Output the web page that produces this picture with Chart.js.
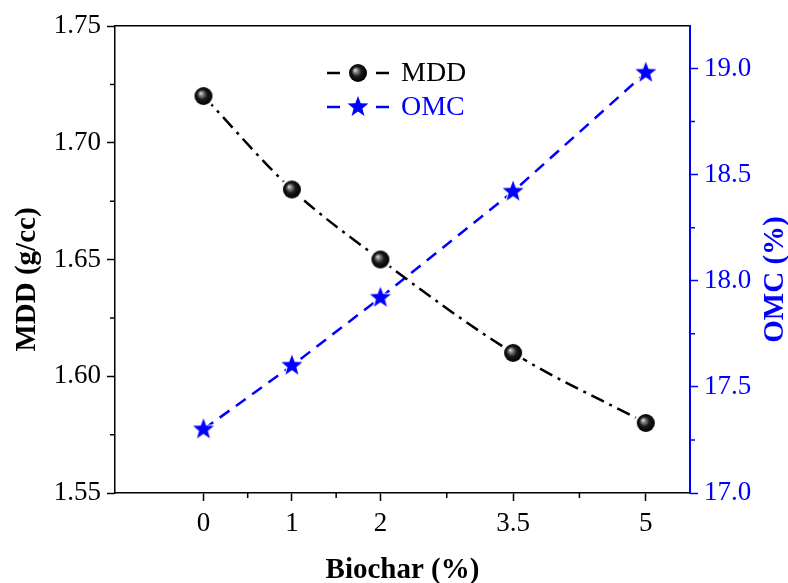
<!DOCTYPE html>
<html lang="en">

<head>
    <meta charset="UTF-8">
    <title>MDD and OMC vs Biochar</title>
    <script src="https://cdn.jsdelivr.net/npm/chart.js"></script>
    <style>
        body { margin: 0; background: #fff; }
        #wrap { width: 788px; height: 583px; }
    </style>
</head>

<body>
    <div id="wrap"><canvas id="chart"></canvas></div>

    <script>
        // data
        const biochar = [0, 1, 2, 3.5, 5];
        const mdd = [1.72, 1.68, 1.65, 1.61, 1.58];
        const omc = [17.30, 17.60, 17.92, 18.42, 18.98];

        // axis ticks
        const xTicks = [0, 1, 2, 3.5, 5];
        const xMinor = [0.5, 1.5, 2.75, 4.25];
        const mddTicks = [1.55, 1.60, 1.65, 1.70, 1.75];
        const mddMinor = [1.575, 1.625, 1.675, 1.725];
        const omcTicks = [17.0, 17.5, 18.0, 18.5, 19.0];
        const omcMinor = [17.25, 17.75, 18.25, 18.75];

        const FONT = "'Liberation Serif', 'Times New Roman', serif";
        const BLUE = "#0000ff";

        // shaded ball marker
        function makeBall(r) {
            let c = document.createElement("canvas");
            c.width = c.height = r * 2 + 6;
            let g = c.getContext("2d");
            let m = c.width / 2;
            g.fillStyle = "#fff";
            g.beginPath(); g.arc(m, m, r + 2.5, 0, Math.PI * 2); g.fill();
            let grad = g.createRadialGradient(m - 3, m - 3, 0, m, m, r);
            grad.addColorStop(0, "#f0f0f0");
            grad.addColorStop(0.2, "#909090");
            grad.addColorStop(0.55, "#1a1a1a");
            grad.addColorStop(1, "#000");
            g.fillStyle = grad;
            g.beginPath(); g.arc(m, m, r, 0, Math.PI * 2); g.fill();
            return c;
        }

        // filled star marker
        function makeStar(r) {
            let c = document.createElement("canvas");
            c.width = c.height = r * 2 + 6;
            let g = c.getContext("2d");
            let m = c.width / 2;
            function path(R) {
                g.beginPath();
                for (let i = 0; i < 10; i++) {
                    let rad = i % 2 === 0 ? R : R * 0.42;
                    let a = -Math.PI / 2 + i * Math.PI / 5;
                    let px = m + rad * Math.cos(a), py = m + rad * Math.sin(a);
                    if (i === 0) g.moveTo(px, py); else g.lineTo(px, py);
                }
                g.closePath();
            }
            g.fillStyle = "#fff"; path(r + 3); g.fill();
            g.fillStyle = BLUE; path(r); g.fill();
            return c;
        }

        const ball = makeBall(9);
        const star = makeStar(11);

        const mddDash = [14, 6, 3, 6];
        const omcDash = [12, 8];

        // minor ticks on each axis
        const minorTicks = {
            id: "minorTicks",
            afterDraw(chart) {
                let ctx = chart.ctx, a = chart.chartArea;
                let sx = chart.scales.x, sy = chart.scales.y, sy2 = chart.scales.y2;
                ctx.save();
                ctx.lineWidth = 1.5;
                ctx.strokeStyle = "#000";
                ctx.beginPath();
                xMinor.forEach(v => {
                    let p = sx.getPixelForValue(v);
                    ctx.moveTo(p, a.bottom); ctx.lineTo(p, a.bottom + 5);
                });
                mddMinor.forEach(v => {
                    let p = sy.getPixelForValue(v);
                    ctx.moveTo(a.left, p); ctx.lineTo(a.left - 5, p);
                });
                ctx.stroke();
                ctx.strokeStyle = BLUE;
                ctx.beginPath();
                omcMinor.forEach(v => {
                    let p = sy2.getPixelForValue(v);
                    ctx.moveTo(a.right, p); ctx.lineTo(a.right + 5, p);
                });
                ctx.stroke();
                ctx.restore();
            }
        };

        // both y titles read bottom-to-top, like the original
        const yTitles = {
            id: "yTitles",
            afterDraw(chart) {
                let ctx = chart.ctx;
                let mid = (chart.chartArea.top + chart.chartArea.bottom) / 2 + 20;
                ctx.save();
                ctx.font = "bold 29px " + FONT;
                ctx.textAlign = "center";
                ctx.textBaseline = "middle";
                [["MDD (g/cc)", "#000", 28], ["OMC (%)", BLUE, 776]].forEach(t => {
                    ctx.save();
                    ctx.translate(t[2], mid);
                    ctx.rotate(-Math.PI / 2);
                    ctx.fillStyle = t[1];
                    ctx.fillText(t[0], 0, 0);
                    ctx.restore();
                });
                ctx.restore();
            }
        };

        // legend: line - marker - line, then label
        const sampleLegend = {
            id: "sampleLegend",
            afterDraw(chart) {
                let ctx = chart.ctx;
                let rows = [
                    { label: "MDD", color: "#000", img: ball, y: 73 },
                    { label: "OMC", color: BLUE, img: star, y: 107 }
                ];
                ctx.save();
                rows.forEach(r => {
                    ctx.strokeStyle = r.color;
                    ctx.lineWidth = 2.5;
                    ctx.beginPath();
                    ctx.moveTo(327, r.y); ctx.lineTo(340, r.y);
                    ctx.moveTo(376, r.y); ctx.lineTo(389, r.y);
                    ctx.stroke();
                    ctx.drawImage(r.img, 358 - r.img.width / 2, r.y - r.img.height / 2);
                    ctx.fillStyle = r.color;
                    ctx.font = "28px " + FONT;
                    ctx.textBaseline = "middle";
                    ctx.fillText(r.label, 401, r.y + 1);
                });
                ctx.restore();
            }
        };

        new Chart(document.getElementById("chart"), {
            type: "line",
            data: {
                datasets: [{
                    label: "MDD",
                    data: biochar.map((x, i) => ({ x: x, y: mdd[i] })),
                    yAxisID: "y",
                    borderColor: "#000",
                    borderWidth: 2.5,
                    borderDash: mddDash,
                    cubicInterpolationMode: "monotone",
                    pointStyle: ball,
                    fill: false
                }, {
                    label: "OMC",
                    data: biochar.map((x, i) => ({ x: x, y: omc[i] })),
                    yAxisID: "y2",
                    borderColor: BLUE,
                    borderWidth: 2.5,
                    borderDash: omcDash,
                    tension: 0,
                    pointStyle: star,
                    fill: false
                }]
            },
            options: {
                responsive: true,
                maintainAspectRatio: false,
                animation: false,
                layout: { padding: 0 },
                plugins: {
                    legend: { display: false },
                    tooltip: { enabled: false }
                },
                scales: {
                    x: {
                        type: "linear",
                        position: "bottom",
                        min: -1,
                        max: 5.5,
                        afterBuildTicks: s => { s.ticks = xTicks.map(v => ({ value: v })); },
                        afterFit: s => { s.height = 90; },
                        ticks: {
                            color: "#000",
                            font: { family: FONT, size: 27 },
                            padding: 7,
                            maxRotation: 0,
                            callback: v => String(v)
                        },
                        grid: { drawOnChartArea: false, tickLength: 8, tickColor: "#000", tickWidth: 1.5 },
                        border: { color: "#000", width: 1.5 },
                        title: {
                            display: true,
                            text: "Biochar (%)",
                            color: "#000",
                            font: { family: FONT, size: 29, weight: "bold", lineHeight: 1 },
                            padding: { top: 0, bottom: -2 }
                        }
                    },
                    x2: {
                        type: "linear",
                        position: "top",
                        min: -1,
                        max: 5.5,
                        afterFit: s => { s.height = 26; },
                        ticks: { display: false },
                        grid: { drawOnChartArea: false, drawTicks: false },
                        border: { color: "#000", width: 1.5 }
                    },
                    y: {
                        position: "left",
                        min: 1.55,
                        max: 1.75,
                        afterBuildTicks: s => { s.ticks = mddTicks.map(v => ({ value: v })); },
                        afterFit: s => { s.width = 115; },
                        ticks: {
                            color: "#000",
                            font: { family: FONT, size: 27 },
                            padding: 6,
                            callback: v => Number(v).toFixed(2)
                        },
                        grid: { drawOnChartArea: false, tickLength: 8, tickColor: "#000", tickWidth: 1.5 },
                        border: { color: "#000", width: 1.5 }
                    },
                    y2: {
                        position: "right",
                        min: 17.0,
                        max: 19.2,
                        afterBuildTicks: s => { s.ticks = omcTicks.map(v => ({ value: v })); },
                        afterFit: s => { s.width = 98; },
                        ticks: {
                            color: BLUE,
                            font: { family: FONT, size: 27 },
                            padding: 6,
                            callback: v => Number(v).toFixed(1)
                        },
                        grid: { drawOnChartArea: false, tickLength: 8, tickColor: BLUE, tickWidth: 1.5 },
                        border: { color: BLUE, width: 2 }
                    }
                }
            },
            plugins: [minorTicks, yTitles, sampleLegend]
        });
    </script>

</body>

</html>
